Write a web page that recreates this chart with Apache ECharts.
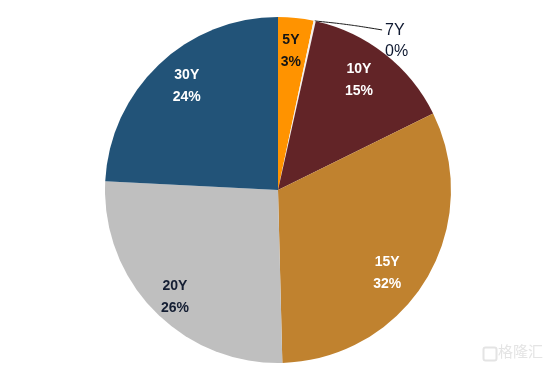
<!DOCTYPE html>
<html>
<head>
<meta charset="utf-8">
<script src="https://cdn.jsdelivr.net/npm/echarts@6/dist/echarts.min.js"></script>
<style>
  html, body { margin: 0; padding: 0; background: #fff; }
  #chart { width: 551px; height: 375px; }
</style>
</head>
<body>
<div id="chart"></div>
<script>
// ---- data ----
const categories = ['5Y', '7Y', '10Y', '15Y', '20Y', '30Y'];
const shares = [3.3, 0.2, 14.2, 31.9, 26.2, 24.2];              // slice sizes, %
const percentLabels = ['3%', '0%', '15%', '32%', '26%', '24%'];  // printed labels

// ---- styling ----
const colors = ['#FF9300', '#F4F0EC', '#622427', '#C0822F', '#BFBFBF', '#225378'];
const textColors = ['#141414', '#0E1830', '#FFFFFF', '#FFFFFF', '#141E33', '#FFFFFF'];
const labelNudge = [[-2, 4], [0, 0], [-8, 3], [-14, 9], [0, 7], [8, 0]];

const chart = echarts.init(document.getElementById('chart'), null, { renderer: 'canvas' });

const center = [278, 190];
const R = 173;

const pieData = categories.map((c, i) => ({
  name: c,
  value: shares[i],
  itemStyle: { color: colors[i] }
}));

const labelData = categories.map((c, i) => {
  const isOuter = c === '7Y';
  return {
    name: c,
    value: shares[i],
    label: isOuter ? {
      show: true,
      position: 'outside',
      color: textColors[i],
      fontWeight: 'normal',
      fontSize: 16,
      lineHeight: 21,
      distanceToLabelLine: 3
    } : {
      show: true,
      position: 'inside',
      color: textColors[i],
      offset: labelNudge[i]
    },
    labelLine: isOuter ? {
      show: true,
      length: 2,
      length2: 62,
      smooth: 0.3,
      lineStyle: { color: '#1A1A1A', width: 1 }
    } : { show: false }
  };
});

chart.setOption({
  backgroundColor: '#ffffff',
  animation: false,
  graphic: [
    {
      type: 'rect',
      left: 481, top: 345,
      shape: { width: 13, height: 13, r: 2 },
      style: { fill: 'none', stroke: '#E4E4E4', lineWidth: 2 },
      silent: true
    },
    {
      type: 'text',
      left: 498, top: 344,
      style: { text: '格隆汇', fill: '#E4E4E4', font: '15px "Noto Sans CJK SC"' },
      silent: true
    }
  ],
  series: [
    {
      type: 'pie',
      center: center,
      radius: [0, R],
      startAngle: 90,
      clockwise: true,
      silent: true,
      avoidLabelOverlap: false,
      label: { show: false },
      labelLine: { show: false },
      itemStyle: { borderWidth: 0 },
      emphasis: { disabled: true },
      data: pieData
    },
    {
      type: 'pie',
      center: center,
      radius: [109, R],
      startAngle: 90,
      clockwise: true,
      silent: true,
      avoidLabelOverlap: false,
      minShowLabelAngle: 0,
      itemStyle: { color: 'rgba(0,0,0,0)', borderWidth: 0 },
      emphasis: { disabled: true },
      label: {
        fontFamily: '"Liberation Sans", Arial, sans-serif',
        fontSize: 14,
        fontWeight: 'bold',
        lineHeight: 22,
        formatter: p => categories[p.dataIndex] + '\n' + percentLabels[p.dataIndex]
      },
      labelLayout: p => {
        if (p.dataIndex !== 1) return {};
        const pts = p.labelLinePoints;
        if (!pts) return { dx: 5, dy: 22 };
        const start = pts[0];
        const end = [pts[2][0] + 5, start[1] + 9];
        const mid = [start[0] + (end[0] - start[0]) * 0.5, start[1] + 3.5];
        return { dx: 5, dy: 22, labelLinePoints: [start, mid, end] };
      },
      data: labelData
    }
  ]
});
</script>
</body>
</html>
